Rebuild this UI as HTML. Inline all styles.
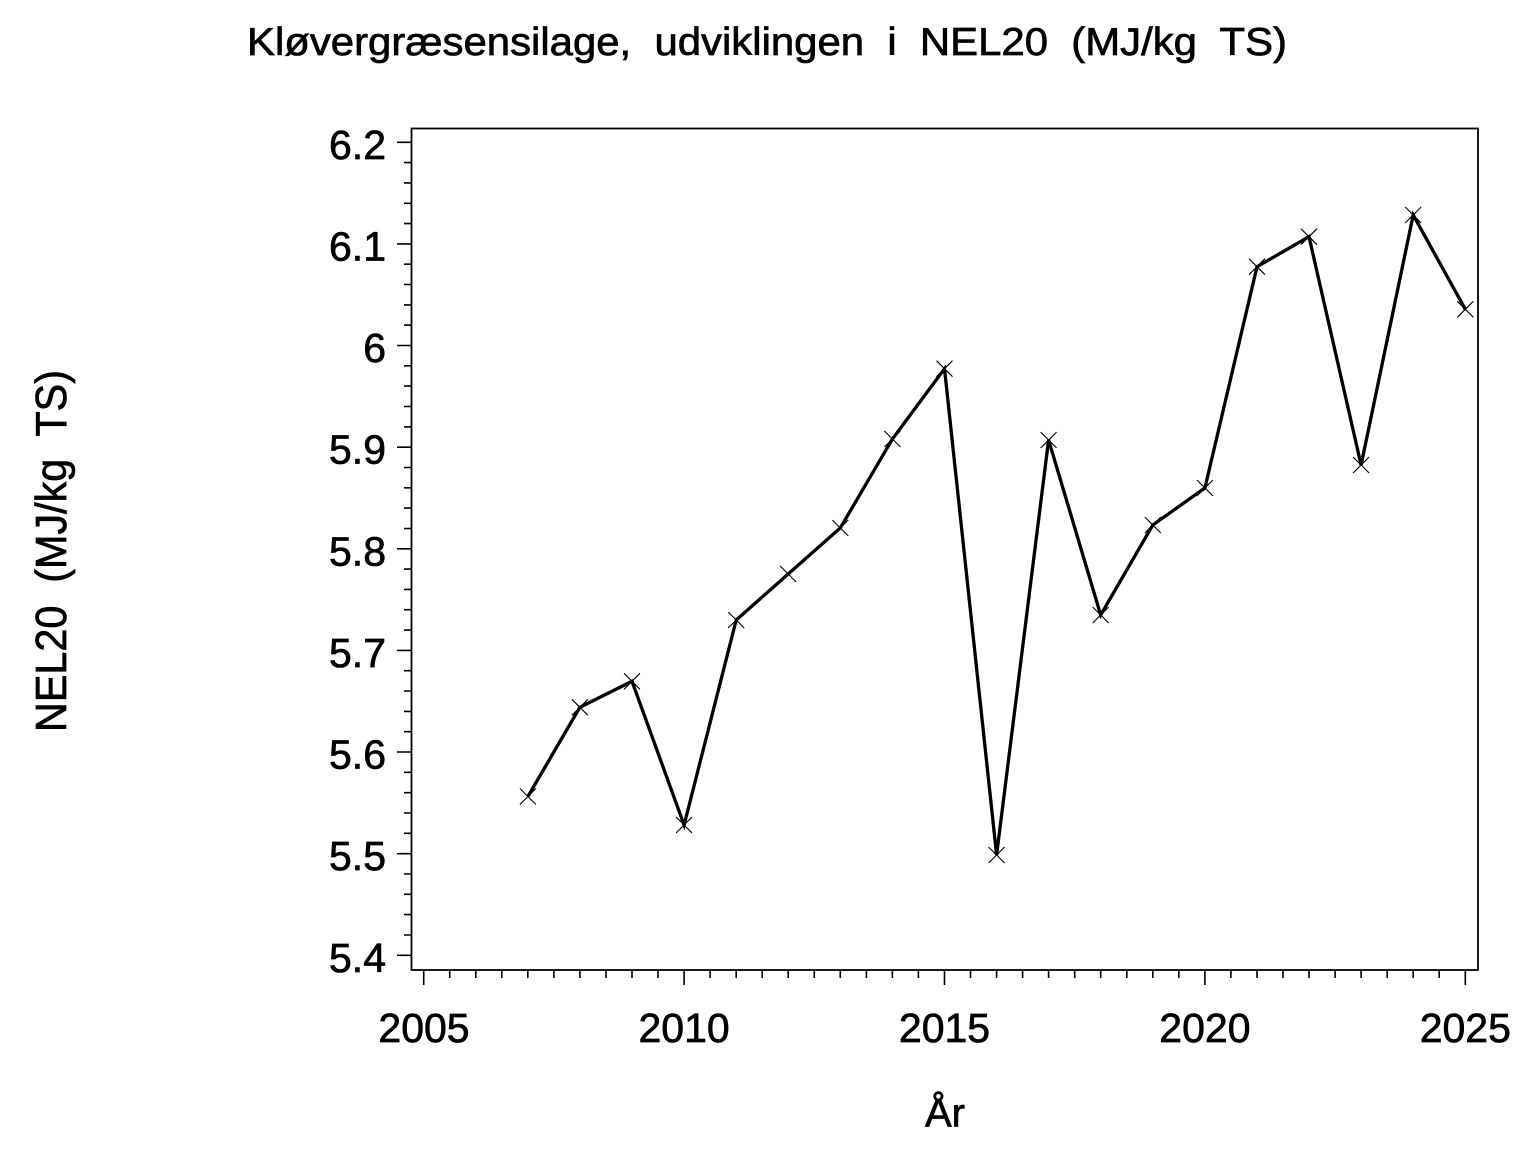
<!DOCTYPE html>
<html>
<head>
<meta charset="utf-8">
<style>
html,body{margin:0;padding:0;background:#fff;}
svg{display:block;}
text{font-family:"Liberation Sans","DejaVu Sans",sans-serif;fill:#000;stroke:#000;stroke-width:0.7px;white-space:pre;}
</style>
</head>
<body>
<svg width="1536" height="1152" viewBox="0 0 1536 1152" xmlns="http://www.w3.org/2000/svg" xml:space="preserve">
<rect width="1536" height="1152" fill="#fff"/>
<text x="247" y="55" font-size="39" textLength="1040" lengthAdjust="spacingAndGlyphs" xml:space="preserve">Kløvergræsensilage,  udviklingen  i  NEL20  (MJ/kg  TS)</text>

<rect x="411.5" y="128.5" width="1066.5" height="841.5" fill="none" stroke="#000" stroke-width="1.8"/>

<g stroke="#000" stroke-width="1.6" fill="none">
<path d="M397 142.3H411 M397 243.9H411 M397 345.5H411 M397 447.2H411 M397 548.8H411 M397 650.4H411 M397 752H411 M397 853.7H411 M397 955.3H411"/>
<path d="M404 162.6H411 M404 182.9H411 M404 203.3H411 M404 223.6H411
M404 264.2H411 M404 284.5H411 M404 304.9H411 M404 325.2H411
M404 365.8H411 M404 386.1H411 M404 406.5H411 M404 426.8H411
M404 467.5H411 M404 487.8H411 M404 508.1H411 M404 528.5H411
M404 569.1H411 M404 589.4H411 M404 609.7H411 M404 630.1H411
M404 670.7H411 M404 691H411 M404 711.4H411 M404 731.7H411
M404 772.3H411 M404 792.7H411 M404 813H411 M404 833.3H411
M404 874H411 M404 894.3H411 M404 914.6H411 M404 935H411"/>
<path d="M423.7 970V985 M684.1 970V985 M944.5 970V985 M1204.9 970V985 M1465.3 970V985"/>
<path d="M449.7 970V978 M475.8 970V978 M501.8 970V978 M527.8 970V978 M553.9 970V978 M579.9 970V978 M606 970V978 M632 970V978 M658 970V978
M710.1 970V978 M736.2 970V978 M762.2 970V978 M788.2 970V978 M814.3 970V978 M840.3 970V978 M866.4 970V978 M892.4 970V978 M918.4 970V978
M970.5 970V978 M996.6 970V978 M1022.6 970V978 M1048.6 970V978 M1074.7 970V978 M1100.7 970V978 M1126.8 970V978 M1152.8 970V978 M1178.8 970V978
M1230.9 970V978 M1257 970V978 M1283 970V978 M1309 970V978 M1335.1 970V978 M1361.1 970V978 M1387.2 970V978 M1413.2 970V978 M1439.2 970V978"/>
</g>

<g font-size="41" text-anchor="end">
<text x="386" y="159">6.2</text>
<text x="386" y="260.5">6.1</text>
<text x="386" y="362">6</text>
<text x="386" y="463.7">5.9</text>
<text x="386" y="565.3">5.8</text>
<text x="386" y="667">5.7</text>
<text x="386" y="768.5">5.6</text>
<text x="386" y="870.2">5.5</text>
<text x="386" y="971.8">5.4</text>
</g>
<g font-size="41" text-anchor="middle">
<text x="424" y="1042">2005</text>
<text x="684.1" y="1042">2010</text>
<text x="944.5" y="1042">2015</text>
<text x="1204.9" y="1042">2020</text>
<text x="1465.3" y="1042">2025</text>
</g>
<text x="945" y="1126.5" font-size="40" text-anchor="middle">År</text>
<text transform="translate(66,732) rotate(-90)" font-size="44" textLength="362" lengthAdjust="spacingAndGlyphs" xml:space="preserve">NEL20  (MJ/kg  TS)</text>

<polyline fill="none" stroke="#000" stroke-width="3.3" stroke-linejoin="miter" points="
527.9,796.5 579.9,707.3 632,681.3 684.1,825 736.2,620 788.2,574 840.3,528 892.4,439 944.5,368.7 996.6,855 1048.6,440 1100.7,615 1152.8,525 1204.9,488 1257,266.7 1309,236.7 1361.1,465 1413.2,215 1465.3,309.3"/>

<g stroke="#000" stroke-width="1.1" fill="none">
<path d="M519.9,788.5l16,16m0,-16l-16,16"/>
<path d="M571.9,699.3l16,16m0,-16l-16,16"/>
<path d="M624,673.3l16,16m0,-16l-16,16"/>
<path d="M676.1,817l16,16m0,-16l-16,16"/>
<path d="M728.2,612l16,16m0,-16l-16,16"/>
<path d="M780.2,566l16,16m0,-16l-16,16"/>
<path d="M832.3,520l16,16m0,-16l-16,16"/>
<path d="M884.4,431l16,16m0,-16l-16,16"/>
<path d="M936.5,360.7l16,16m0,-16l-16,16"/>
<path d="M988.6,847l16,16m0,-16l-16,16"/>
<path d="M1040.6,432l16,16m0,-16l-16,16"/>
<path d="M1092.7,607l16,16m0,-16l-16,16"/>
<path d="M1144.8,517l16,16m0,-16l-16,16"/>
<path d="M1196.9,480l16,16m0,-16l-16,16"/>
<path d="M1249,258.7l16,16m0,-16l-16,16"/>
<path d="M1301,228.7l16,16m0,-16l-16,16"/>
<path d="M1353.1,457l16,16m0,-16l-16,16"/>
<path d="M1405.2,207l16,16m0,-16l-16,16"/>
<path d="M1457.3,301.3l16,16m0,-16l-16,16"/>
</g>
</svg>
</body>
</html>
